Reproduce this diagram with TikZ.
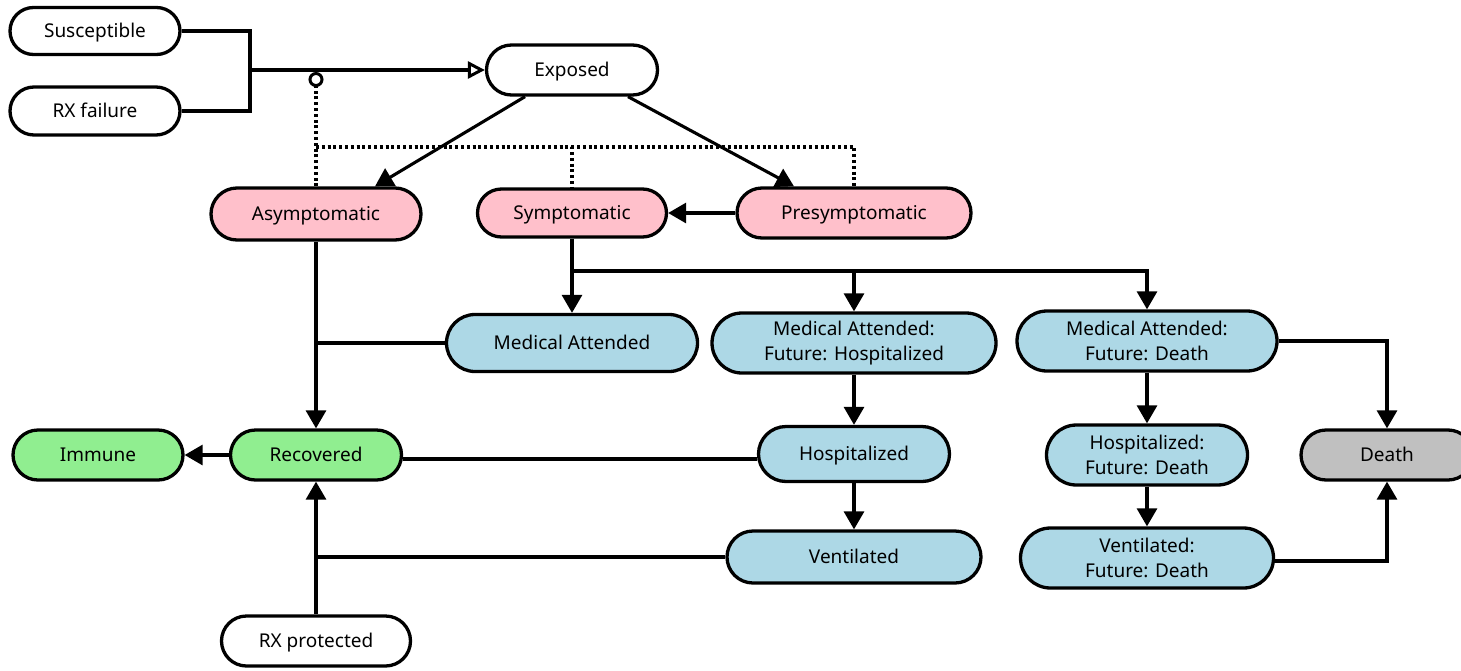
\documentclass[tikz,border=0pt]{standalone}
\usepackage{fontspec}
\setmainfont{Noto Sans}
\usetikzlibrary{arrows.meta,shapes.misc,calc}
\definecolor{statepink}{HTML}{FFC0CB}
\definecolor{stateblue}{HTML}{ADD8E6}
\definecolor{stategreen}{HTML}{90EE90}
\definecolor{stategrey}{HTML}{C0C0C0}
\tikzset{
  pill/.style 2 args={rounded rectangle, draw=black, line width=3.3pt,
    minimum width=#1pt, minimum height=#2pt, inner sep=0pt, align=center,
    font=\fontsize{19}{25}\selectfont},
  oneline/.style={text height=13.6pt, text depth=0pt},
  plain/.style={fill=white, oneline},
  pinkst/.style={fill=statepink, oneline},
  bluest/.style={fill=stateblue},
  greenst/.style={fill=stategreen, oneline},
  greyst/.style={fill=stategrey, oneline},
  link/.style={line width=3.1pt, draw=black},
  arr/.style={link, -{Triangle[length=18pt,width=20pt]}},
  openarr/.style={link, -{Triangle[open,length=17pt,width=17pt,line width=3pt]}},
  modline/.style={line width=3.1pt, dash pattern=on 3pt off 2.8pt,
    -{Circle[open,length=15pt,line width=3pt]}},
  dotline/.style={line width=3.1pt, dash pattern=on 3pt off 2.8pt},
}
\begin{document}
\begin{tikzpicture}[x=1pt,y=-1pt]
\useasboundingbox (0,0) rectangle (1461,670);

% compartments
\node[pill={170}{47},plain]   (sus)   at (95,31)    {Susceptible};
\node[pill={170}{48},plain]   (rxf)   at (95,111)   {RX failure};
\node[pill={171}{50},plain]   (exp)   at (572,70)   {Exposed};
\node[pill={210}{52},pinkst]  (asym)  at (316,214)  {Asymptomatic};
\node[pill={189}{48},pinkst]  (sym)   at (572,213)  {Symptomatic};
\node[pill={234}{50},pinkst]  (pre)   at (854,213)  {Presymptomatic};
\node[pill={251}{57},bluest,oneline] (ma) at (572,343) {Medical Attended};
\node[pill={284}{60},bluest]  (mah)   at (854,343)  {Medical Attended:\\Future: Hospitalized};
\node[pill={260}{60},bluest]  (mad)   at (1147,341) {Medical Attended:\\Future: Death};
\node[pill={170}{50},greenst] (imm)   at (98,455)   {Immune};
\node[pill={171}{50},greenst] (rec)   at (316,455)  {Recovered};
\node[pill={191}{55},bluest,oneline] (hosp) at (854,454) {Hospitalized};
\node[pill={201}{60},bluest]  (hfd)   at (1147,455) {Hospitalized:\\Future: Death};
\node[pill={172}{50},greyst]  (death) at (1387,455) {Death};
\node[pill={254}{52},bluest,oneline] (vent) at (854,557) {Ventilated};
\node[pill={253}{60},bluest]  (vfd)   at (1147,558) {Ventilated:\\Future: Death};
\node[pill={189}{50},plain]   (rxp)   at (316,641)  {RX protected};

% junction points
\coordinate (infj) at (250,70);
\coordinate (modtip) at (316,72);
\coordinate (dotj) at (316,147);
\coordinate (symj) at (572,271);

% infection
\draw[link] (sus.east) -| (infj) |- (rxf.east);
\draw[openarr] (infj) -- (exp.west);
\draw[arr] ([xshift=-47pt]exp.south) -- ([xshift=59pt]asym.north);
\draw[arr] ([xshift=56pt]exp.south) -- ([xshift=-60pt]pre.north);
\draw[arr] (pre.west) -- (sym.east);

% infectiousness feedback
\draw[modline] (asym.north) -- (modtip);
\draw[dotline] (dotj) -| (sym.north);
\draw[dotline] (dotj) -| (pre.north);

% symptomatic branches
\draw[link] (sym.south) -- (symj);
\draw[arr] (symj) -- (ma.north);
\draw[arr] (symj) -| (mah.north);
\draw[arr] (symj) -| (mad.north);

% recovery
\draw[arr] (asym.south) -- (rec.north);
\draw[link] (ma.west) -- (ma.west -| rec.north);
\draw[link] ([yshift=-5pt]hosp.west) -- ([yshift=-5pt]hosp.west -| rec.east);
\draw[link] (vent.west) -- (vent.west -| rec.south);
\draw[arr] (rxp.north) -- (rec.south);
\draw[arr] (rec.west) -- (imm.east);

% hospital chains
\draw[arr] (mah.south) -- (hosp.north);
\draw[arr] (hosp.south) -- (vent.north);
\draw[arr] (mad.south) -- (hfd.north);
\draw[arr] (hfd.south) -- (vfd.north);
\draw[arr] (mad.east) -| (death.north);
\draw[arr] ([yshift=-3pt]vfd.east) -| (death.south);
\end{tikzpicture}
\end{document}
